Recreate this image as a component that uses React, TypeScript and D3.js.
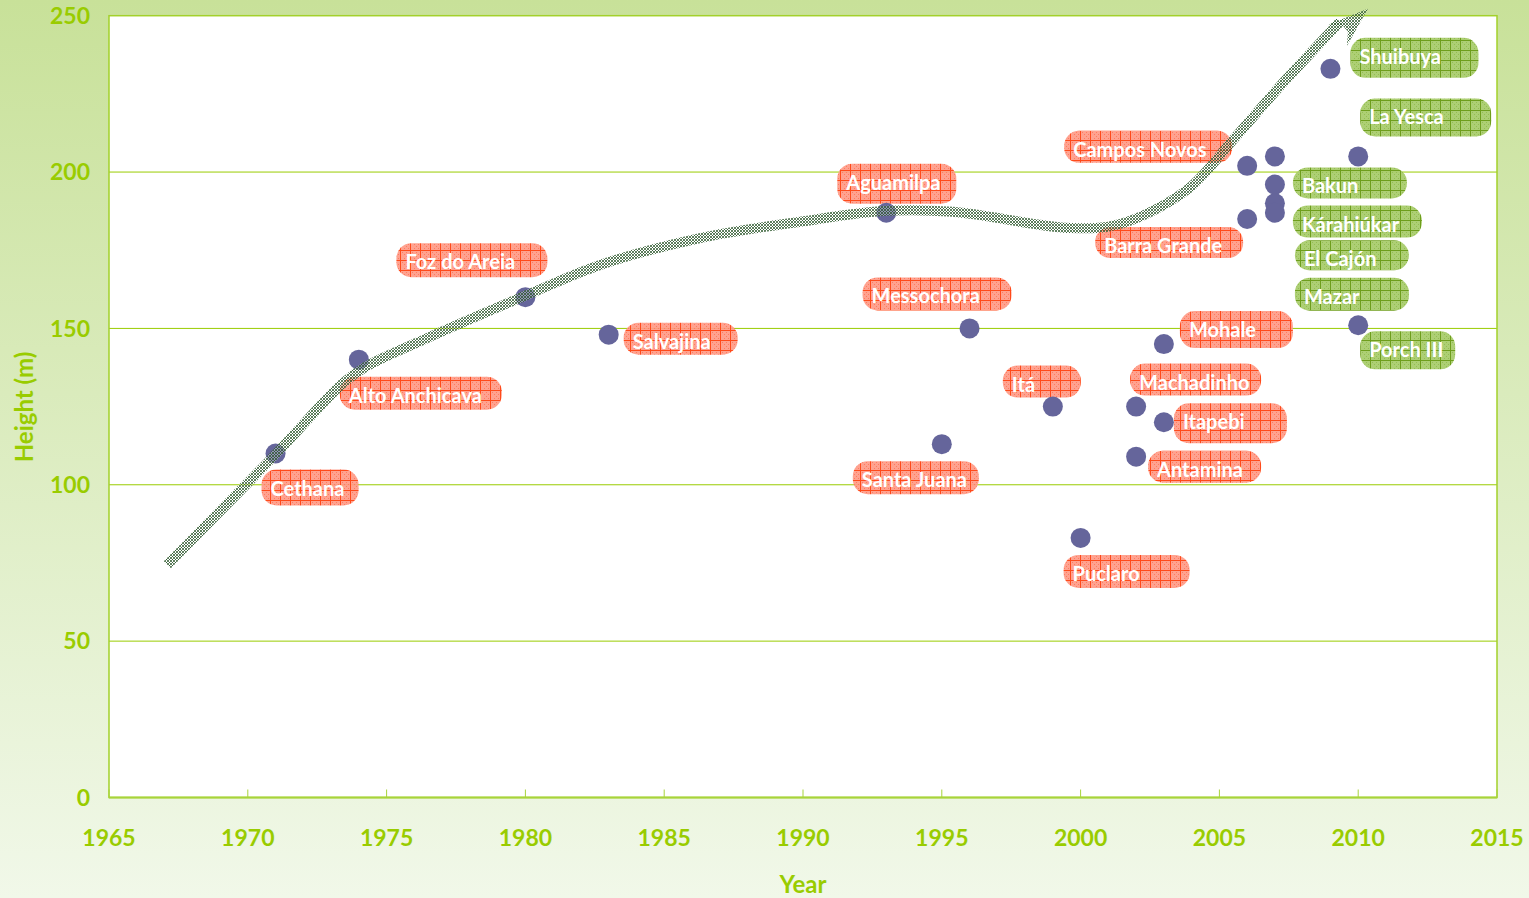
import React from "react";
import * as d3 from "d3";

// ---- data ----
const damNames = [
  "Cethana", "Alto Anchicava", "Foz do Areia", "Salvajina", "Aguamilpa",
  "Santa Juana", "Messochora", "Itá", "Puclaro", "Machadinho", "Antamina",
  "Itapebi", "Mohale", "Campos Novos", "Barra Grande", "Bakun", "Kárahiúkar",
  "El Cajón", "Mazar", "Shuibuya", "La Yesca", "Porch III",
];
const damYears = [
  1971, 1974, 1980, 1983, 1993, 1995, 1996, 1999, 2000, 2002, 2002,
  2003, 2003, 2006, 2006, 2007, 2007, 2007, 2007, 2009, 2010, 2010,
];
const damHeights = [
  110, 140, 160, 148, 187, 113, 150, 125, 83, 125, 109,
  120, 145, 202, 185, 205, 196, 190, 187, 233, 205, 151,
];
// label colour group: "a" = salmon, "b" = green
const damGroups = [
  "a", "a", "a", "a", "a", "a", "a", "a", "a", "a", "a",
  "a", "a", "a", "a", "b", "b", "b", "b", "b", "b", "b",
];
// trend arrow (year, height)
const trendYears = [
  1967.1, 1971.05, 1973.43, 1974.3, 1976.31, 1980.06, 1982.69, 1986.29, 1989.89,
  1992.99, 1995.4, 1999.62, 2001.42, 2003.83, 2005.49, 2007.29, 2009.34, 2010.35,
];
const trendHeights = [
  74.4, 110.2, 132.5, 138.0, 146.3, 160.7, 170.3, 178.9, 184.1,
  187.6, 187.3, 182.1, 183.4, 194.3, 210.3, 228.5, 248.0, 252.2,
];

const xTicks = [1965, 1970, 1975, 1980, 1985, 1990, 1995, 2000, 2005, 2010, 2015];
const yTicks = [0, 50, 100, 150, 200, 250];

// ---- label layout (pixel offsets of the label box from its point) ----
const labelDx = [-14, -19, -129, 15, -49, -89, -107, -50, -17, -6, 12, 10, 16, -183, -152, 18, 18, 20, 20, 20, 2, 2];
const labelDy = [16, 17, -54, -12, -49, 17, -51, -41, 17, -43, -6, -19, -33, -35, 8, 11, 21, 37, 65, -31, -58, 6];
const labelW = [97, 162, 151, 114, 119, 126, 149, 78, 126, 131, 113, 113, 113, 168, 148, 114, 129, 114, 114, 128, 131, 95];
const labelH = [36, 33, 34, 32, 40, 33, 33, 32, 33, 32, 32, 40, 37, 32, 31, 31, 32, 30, 33, 40, 38, 38];

const W = 1529;
const H = 898;
const GREEN = "#99cc00";
const FONT = "Lato, 'Open Sans', sans-serif";

export default function App() {
  const x = d3.scaleLinear().domain([1965, 2015]).range([109, 1497]);
  const y = d3.scaleLinear().domain([0, 250]).range([797.5, 15.7]);

  const trend: [number, number][] = trendYears.map((t, i) => [t, trendHeights[i]]);
  const line = d3
    .line<[number, number]>()
    .x((d) => x(d[0]))
    .y((d) => y(d[1]))
    .curve(d3.curveCatmullRom.alpha(0.5));

  // arrow head
  const n = trend.length;
  const tip = [x(trend[n - 1][0]), y(trend[n - 1][1])];
  const prev = [x(trend[n - 3][0]), y(trend[n - 3][1])];
  const dxv = tip[0] - prev[0];
  const dyv = tip[1] - prev[1];
  const len = Math.hypot(dxv, dyv);
  const ux = dxv / len, uy = dyv / len;
  const nx = -uy, ny = ux;
  const hl = 40, hw = 14, notch = 30;
  const head = [
    [tip[0], tip[1]],
    [tip[0] - hl * ux + hw * nx, tip[1] - hl * uy + hw * ny],
    [tip[0] - notch * ux + 4 * nx, tip[1] - notch * uy + 4 * ny],
    [tip[0] - notch * ux - 4 * nx, tip[1] - notch * uy - 4 * ny],
    [tip[0] - hl * ux - hw * nx, tip[1] - hl * uy - hw * ny],
  ];
  const shaft = trend.slice(0, n - 1);

  return (
    <svg width={W} height={H} style={{ position: "absolute", left: 0, top: 0 }} fontFamily={FONT}>
      <defs>
        <linearGradient id="bg" x1="0" y1="0" x2="0" y2="1">
          <stop offset="0" stopColor="#c8e199" />
          <stop offset="1" stopColor="#f1f8e9" />
        </linearGradient>
        <pattern id="patA" width="10" height="10" patternUnits="userSpaceOnUse">
          <rect width="10" height="10" fill="#ff9a86" fillOpacity="0.92" />
          <path d="M0,0h1v1h-1zM2,2h1v1h-1zM4,4h1v1h-1zM6,6h1v1h-1zM8,8h1v1h-1zM2,0h1v1h-1zM6,2h1v1h-1zM4,8h1v1h-1zM8,4h1v1h-1z" fill="#ff7a60" />
          <path d="M0,0.5H10M0.5,0V10" stroke="#ff4a1a" strokeWidth="1" />
        </pattern>
        <pattern id="patB" width="10" height="10" patternUnits="userSpaceOnUse">
          <rect width="10" height="10" fill="#a8cc6c" fillOpacity="0.95" />
          <path d="M0,0h1v1h-1zM2,2h1v1h-1zM4,4h1v1h-1zM6,6h1v1h-1zM8,8h1v1h-1zM2,0h1v1h-1zM6,2h1v1h-1zM4,8h1v1h-1zM8,4h1v1h-1z" fill="#94bd52" />
          <path d="M0,0.5H10M0.5,0V10" stroke="#6e9e1c" strokeWidth="1" />
        </pattern>
        <pattern id="hatch" width="3" height="3" patternUnits="userSpaceOnUse">
          <rect width="3" height="3" fill="#ffffff" fillOpacity="0.3" />
          <path d="M0,0L3,3M3,0L0,3" stroke="#2a552a" strokeWidth="0.75" />
        </pattern>
        {damNames.map((_, i) => (
          <clipPath id={`lc${i}`} key={i}>
            <rect
              x={x(damYears[i]) + labelDx[i]}
              y={y(damHeights[i]) + labelDy[i]}
              width={labelW[i]}
              height={labelH[i]}
            />
          </clipPath>
        ))}
      </defs>

      <rect x={0} y={0} width={W} height={H} fill="url(#bg)" />

      {/* plot area */}
      <rect x={x(1965)} y={y(250)} width={x(2015) - x(1965)} height={y(0) - y(250)} fill="#ffffff" />
      {yTicks.filter((t) => t > 0 && t < 250).map((t) => (
        <line key={t} x1={x(1965)} x2={x(2015)} y1={y(t)} y2={y(t)} stroke="#99cc00" strokeWidth={1} />
      ))}
      <rect
        x={x(1965)}
        y={y(250)}
        width={x(2015) - x(1965)}
        height={y(0) - y(250)}
        fill="none"
        stroke="#a3d12a"
        strokeWidth={1.5}
      />
      <line x1={x(1965)} x2={x(2015)} y1={y(0)} y2={y(0)} stroke="#a8d43a" strokeWidth={2} />
      {xTicks.map((t) => (
        <line key={t} x1={x(t)} x2={x(t)} y1={y(0)} y2={y(0) - 8} stroke="#a8d43a" strokeWidth={1} />
      ))}

      {/* tick labels */}
      {yTicks.map((t) => (
        <text key={t} x={90} y={y(t)} dy="0.36em" textAnchor="end" fontSize={23} fontWeight={700} fill={GREEN}>
          {t}
        </text>
      ))}
      {xTicks.map((t) => (
        <text key={t} x={x(t)} y={846} textAnchor="middle" fontSize={23} fontWeight={700} fill={GREEN}>
          {t}
        </text>
      ))}
      <text x={803} y={893} textAnchor="middle" fontSize={24} fontWeight={700} fill={GREEN}>
        Year
      </text>
      <text
        transform={`translate(33,407) rotate(-90)`}
        textAnchor="middle"
        fontSize={24}
        fontWeight={700}
        fill={GREEN}
      >
        Height (m)
      </text>

      {/* label boxes */}
      {damNames.map((name, i) => {
        const bx = x(damYears[i]) + labelDx[i];
        const by = y(damHeights[i]) + labelDy[i];
        const r = Math.min(labelH[i] / 2, 15);
        return (
          <g key={name}>
            <rect
              x={bx}
              y={by}
              width={labelW[i]}
              height={labelH[i]}
              rx={r}
              ry={r}
              fill={damGroups[i] === "a" ? "url(#patA)" : "url(#patB)"}
            />
            <text
              x={bx + 9}
              y={by + 26}
              fontSize={20}
              fontWeight={700}
              fill="#ffffff"
              clipPath={`url(#lc${i})`}
            >
              {name}
            </text>
          </g>
        );
      })}

      {/* points */}
      {damNames.map((name, i) => (
        <circle key={name} cx={x(damYears[i])} cy={y(damHeights[i])} r={10} fill="#65659b" />
      ))}

      {/* trend arrow */}
      <path d={line(shaft) || ""} fill="none" stroke="url(#hatch)" strokeWidth={10} />
      <polygon points={head.map((p) => p.join(",")).join(" ")} fill="url(#hatch)" />
    </svg>
  );
}
